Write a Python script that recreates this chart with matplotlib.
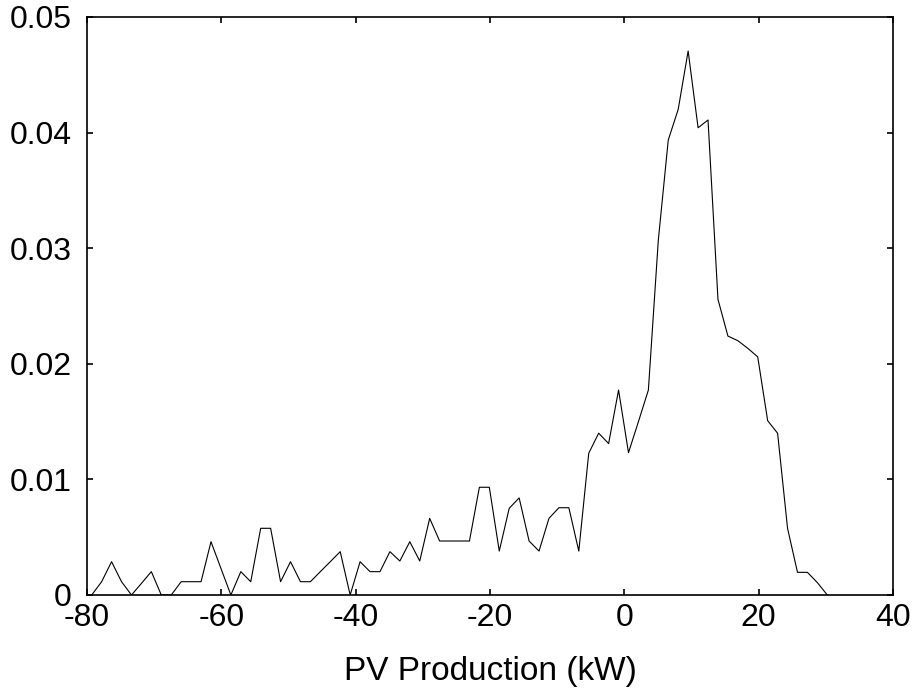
import matplotlib
matplotlib.use("Agg")
import matplotlib.pyplot as plt

plt.rcParams['font.family'] = ['Liberation Sans', 'DejaVu Sans']

# Bin centres (kW)
pv_kw = [-79.30, -77.82, -76.34, -74.86, -73.38, -71.90, -70.42, -68.94, -67.46, -65.98,
         -64.50, -63.02, -61.54, -60.06, -58.58, -57.10, -55.62, -54.14, -52.66, -51.18,
         -49.70, -48.22, -46.74, -45.26, -43.78, -42.30, -40.82, -39.34, -37.86, -36.38,
         -34.90, -33.42, -31.94, -30.46, -28.98, -27.50, -26.02, -24.54, -23.06, -21.58,
         -20.10, -18.62, -17.14, -15.66, -14.18, -12.70, -11.22, -9.74, -8.26, -6.78,
         -5.30, -3.82, -2.34, -0.86, 0.62, 2.10, 3.58, 5.06, 6.54, 8.02,
         9.50, 10.98, 12.46, 13.94, 15.42, 16.90, 18.38, 19.86, 21.34, 22.82,
         24.30, 25.78, 27.26, 28.74, 30.22]

# Probability values
prob = [0.0, 0.00115, 0.00288, 0.00115, 0.0, 0.00100, 0.00202, 0.0, 0.0, 0.00115,
        0.00115, 0.00115, 0.00461, 0.00230, 0.0, 0.00202, 0.00115, 0.00577, 0.00577, 0.00115,
        0.00288, 0.00115, 0.00115, 0.00202, 0.00288, 0.00375, 0.0, 0.00288, 0.00202, 0.00202,
        0.00375, 0.00294, 0.00461, 0.00294, 0.00663, 0.00467, 0.00467, 0.00467, 0.00467, 0.00932,
        0.00932, 0.00380, 0.00750, 0.00840, 0.00467, 0.00380, 0.00663, 0.00755, 0.00755, 0.00380,
        0.01226, 0.01400, 0.01310, 0.01773, 0.01231, 0.01500, 0.01773, 0.03070, 0.03936, 0.04201,
        0.04706, 0.04042, 0.04109, 0.02558, 0.02240, 0.02200, 0.02134, 0.02060, 0.01508, 0.01399,
        0.00577, 0.00196, 0.00196, 0.00107, 0.0]

x_ticks = [-80, -60, -40, -20, 0, 20, 40]
x_ticklabels = ['-80', '-60', '-40', '-20', '0', '20', '40']
y_ticks = [0, 0.01, 0.02, 0.03, 0.04, 0.05]
y_ticklabels = ['0', '0.01', '0.02', '0.03', '0.04', '0.05']
x_label = 'PV Production (kW)'

fig = plt.figure(figsize=(9.19, 6.88), dpi=100)
ax = fig.add_axes([87 / 919, 93 / 688, (893 - 87) / 919, (595 - 17) / 688])
ax.plot(pv_kw, prob, color='black', linewidth=0.8)

ax.set_xlim(-80, 40)
ax.set_ylim(0, 0.05)
ax.set_xticks(x_ticks)
ax.set_xticklabels(x_ticklabels)
ax.set_yticks(y_ticks)
ax.set_yticklabels(y_ticklabels)
ax.set_xlabel(x_label, fontsize=24, labelpad=16)
ax.tick_params(direction='in', length=4, width=1.2, top=True, right=True,
               labelsize=23)
ax.tick_params(axis='y', pad=11)
ax.tick_params(axis='x', pad=6)
for s in ax.spines.values():
    s.set_linewidth(1.2)

fig.savefig('out.png', dpi=100)
